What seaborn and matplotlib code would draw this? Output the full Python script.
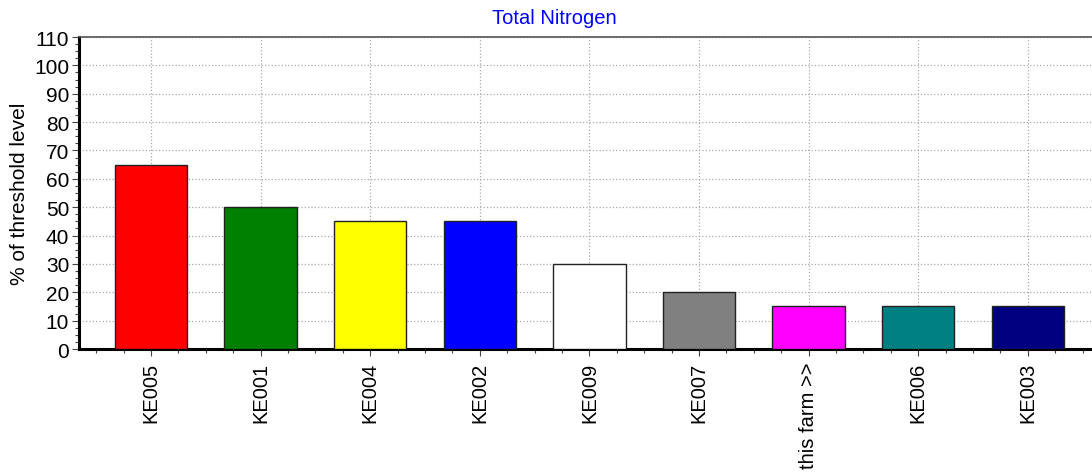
import matplotlib
matplotlib.use("Agg")
import matplotlib.pyplot as plt
import pandas as pd
import seaborn as sns
from matplotlib.ticker import MultipleLocator, AutoMinorLocator

# data
farms = ["KE005", "KE001", "KE004", "KE002", "KE009", "KE007", "this farm >>", "KE006", "KE003"]
pct_threshold = [65, 50, 45, 45, 30, 20, 15, 15, 15]
bar_colors = ["#ff0000", "#008000", "#ffff00", "#0000ff", "#ffffff",
              "#808080", "#ff00ff", "#008080", "#000080"]

sns.set_theme(style="white")
plt.rcParams["font.family"] = ["Liberation Sans", "DejaVu Sans"]

df = pd.DataFrame({"farm": farms, "pct": pct_threshold})

fig = plt.figure(figsize=(10.92, 4.77), dpi=100)
ax = fig.add_axes([0.0723, 0.2662, 0.9277, 0.6541])

sns.barplot(data=df, x="farm", y="pct", hue="farm", palette=bar_colors,
            width=0.66, dodge=False, legend=False, ax=ax,
            edgecolor="#222222", linewidth=1.0, saturation=1, zorder=3)

ax.set_xlim(-0.657, 8.585)
ax.set_ylim(0, 110)
ax.yaxis.set_major_locator(MultipleLocator(10))
ax.yaxis.set_minor_locator(AutoMinorLocator(4))
ax.xaxis.set_minor_locator(MultipleLocator(0.25))

ax.grid(True, which="major", color="#aaaaaa", linestyle=":", linewidth=0.9, zorder=0)
ax.set_axisbelow(True)

ax.spines["right"].set_visible(False)
ax.spines["top"].set_color("#555555")
ax.spines["top"].set_linewidth(1.2)
for side in ["left", "bottom"]:
    ax.spines[side].set_color("black")
    ax.spines[side].set_linewidth(2.2)

ax.tick_params(axis="both", which="major", direction="out", length=5, width=0.8,
               colors="#444444", labelcolor="black", labelsize=15,
               bottom=True, left=True)
ax.tick_params(axis="both", which="minor", direction="out", length=3, width=0.8,
               colors="#444444", bottom=True, left=True)
ax.tick_params(axis="x", rotation=90, pad=4, labelsize=14.5)
ax.tick_params(axis="y", pad=2)

ax.set_xlabel("")
ax.set_ylabel("% of threshold level", fontsize=15, color="black", labelpad=4)
fig.text(0.508, 0.962, "Total Nitrogen", color="#0000ff", fontsize=14.5,
         ha="center", va="center")

fig.savefig("out.png", dpi=100)
